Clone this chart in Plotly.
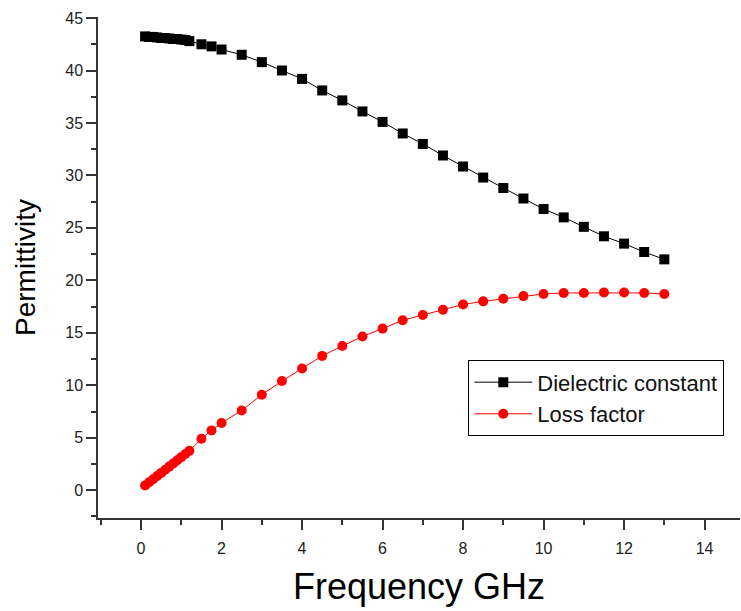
import plotly.graph_objects as go

freq_dc = [0.1, 0.2, 0.3, 0.4, 0.5, 0.6, 0.7, 0.8, 0.9, 1.0, 1.1, 1.2, 1.5, 1.75, 2.0,
           2.5, 3.0, 3.5, 4.0, 4.5, 5.0, 5.5, 6.0, 6.5, 7.0, 7.5, 8.0, 8.5, 9.0, 9.5,
           10.0, 10.5, 11.0, 11.5, 12.0, 12.5, 13.0]
dielectric_constant = [43.25, 43.2, 43.2, 43.15, 43.1, 43.1, 43.05, 43.0, 43.0, 42.95, 42.9, 42.8,
                       42.5, 42.3, 42.0, 41.5, 40.8, 40.0, 39.2, 38.1, 37.15, 36.1, 35.1, 34.0,
                       33.0, 31.9, 30.85, 29.8, 28.8, 27.8, 26.8, 26.0, 25.1, 24.2, 23.5, 22.7, 22.0]
loss_factor = [0.45, 0.75, 1.05, 1.35, 1.65, 1.95, 2.25, 2.55, 2.85, 3.15, 3.45, 3.75,
               4.9, 5.7, 6.4, 7.6, 9.1, 10.4, 11.6, 12.8, 13.75, 14.65, 15.4, 16.2,
               16.7, 17.2, 17.7, 18.0, 18.25, 18.5, 18.7, 18.8, 18.8, 18.85, 18.85, 18.8, 18.7]

x_ticks = [0, 2, 4, 6, 8, 10, 12, 14]
y_ticks = [0, 5, 10, 15, 20, 25, 30, 35, 40, 45]

fig = go.Figure()
fig.add_trace(go.Scatter(
    x=freq_dc, y=dielectric_constant, mode="lines+markers", name="Dielectric constant",
    line=dict(color="black", width=1),
    marker=dict(symbol="square", size=10, color="black"),
))
fig.add_trace(go.Scatter(
    x=freq_dc, y=loss_factor, mode="lines+markers", name="Loss factor",
    line=dict(color="red", width=1),
    marker=dict(symbol="circle", size=10, color="red"),
))

axis_common = dict(
    showline=True, linecolor="#333333", linewidth=1.5,
    ticks="outside", ticklen=10, tickwidth=1.5, tickcolor="#333333",
    showgrid=False, zeroline=False, mirror=False,
    tickfont=dict(family="Liberation Sans, Arial", size=16, color="#222222"),
)
minor_common = dict(ticks="outside", ticklen=5, tickwidth=1.5, tickcolor="#333333", showgrid=False)

fig.update_layout(
    width=741, height=611,
    paper_bgcolor="white", plot_bgcolor="white",
    margin=dict(l=98, r=1, t=17, b=93),
    showlegend=True,
    legend=dict(
        x=0.5765, y=0.315, xanchor="left", yanchor="top",
        bordercolor="black", borderwidth=1.2, bgcolor="white",
        font=dict(family="Liberation Sans, Arial", size=22, color="#111111"),
        tracegroupgap=0, itemwidth=58,
    ),
    xaxis=dict(
        range=[-1.07, 14.88], tickvals=x_ticks, ticktext=[str(v) for v in x_ticks],
        minor=dict(dtick=1, tick0=1, **minor_common),
        ticklabelstandoff=5,
        title=dict(text="Frequency GHz", font=dict(family="Liberation Sans, Arial", size=36, color="black"), standoff=18),
        **axis_common,
    ),
    yaxis=dict(
        range=[-2.65, 45.1], tickvals=y_ticks, ticktext=[str(v) for v in y_ticks],
        minor=dict(dtick=2.5, tick0=2.5, **minor_common),
        ticklabelstandoff=0,
        title=dict(text="Permittivity", font=dict(family="Liberation Sans, Arial", size=28, color="black"), standoff=21),
        **axis_common,
    ),
)

fig.write_html("out.html")
